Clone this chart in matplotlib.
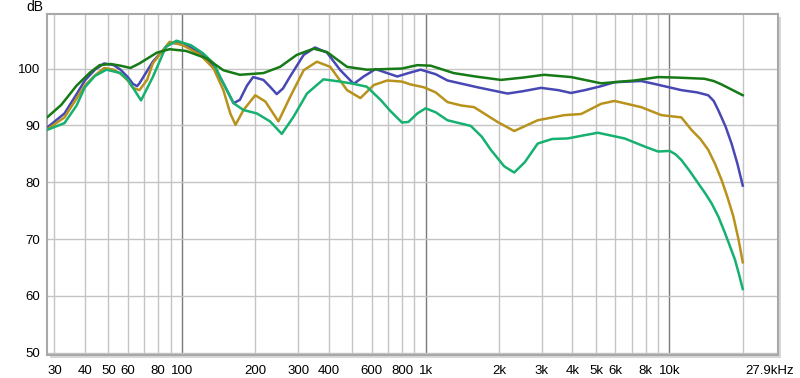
import numpy as np
import matplotlib.pyplot as plt
from matplotlib.ticker import FixedLocator, NullLocator
from matplotlib.patches import Rectangle
import matplotlib.transforms as mtransforms

plt.rcParams['font.family'] = ['Liberation Sans', 'DejaVu Sans']

# frequency response curves, Hz / dB
f_dgreen = [28, 32, 37, 42, 46, 51, 56, 61.5, 67, 79, 89, 104, 126, 148, 173, 216, 253, 296,
            347, 394, 476, 574, 800, 925, 1049, 1304, 1600, 2036, 2500, 3060, 3952, 5252,
            7198, 8985, 10860, 13930, 15200, 16370, 18000, 20000]
db_dgreen = [91.4, 93.6, 97.0, 99.3, 100.6, 100.8, 100.5, 100.1, 100.9, 102.8, 103.4, 103.1,
             101.8, 99.7, 98.9, 99.2, 100.3, 102.4, 103.5, 102.9, 100.3, 99.8, 100.0, 100.6,
             100.5, 99.2, 98.6, 98.0, 98.4, 98.9, 98.5, 97.4, 97.9, 98.5, 98.4, 98.2, 97.8,
             97.2, 96.3, 95.3]

f_blue = [28, 33, 37, 40, 44, 48, 52.5, 56, 60, 63, 65.5, 67, 76, 89, 101, 119, 135, 148, 163,
          173, 185, 196, 216, 230, 245, 260, 278, 316, 352, 394, 447, 507, 557, 623, 696,
          765, 850, 954, 1100, 1229, 1633, 2169, 2500, 2974, 3500, 3952, 4500, 5252, 5955,
          7670, 8676, 11200, 13000, 14430, 15200, 15860, 17000, 17990, 19000, 20000]
db_blue = [89.6, 92.1, 95.5, 97.9, 99.8, 100.9, 100.6, 99.8, 98.5, 97.3, 96.9, 97.4, 101.2,
           104.5, 104.4, 102.8, 100.3, 97.4, 93.9, 94.5, 97.0, 98.5, 98.0, 96.8, 95.5, 96.5,
           98.6, 102.4, 103.7, 102.8, 99.7, 97.3, 98.6, 99.9, 99.2, 98.6, 99.2, 99.8, 99.0,
           97.9, 96.7, 95.6, 96.0, 96.6, 96.2, 95.7, 96.2, 96.9, 97.6, 97.8, 97.3, 96.2,
           95.8, 95.3, 94.3, 92.7, 89.8, 86.8, 83.3, 79.4]

f_gold = [28, 33, 40, 44, 48, 52.5, 56, 60, 63, 67, 72, 76, 89, 101, 119, 135, 148, 158, 166,
          179, 200, 220, 249, 278, 316, 358, 406, 476, 540, 613, 696, 800, 868, 984, 1100,
          1229, 1400, 1581, 1973, 2309, 2883, 3708, 4345, 5252, 5955, 7670, 9270, 11200,
          12320, 13400, 14430, 15400, 16370, 17300, 18290, 19200, 20000]
db_gold = [89.3, 91.4, 97.0, 98.8, 100.1, 99.8, 99.1, 97.9, 96.6, 96.2, 98.0, 100.9, 104.7,
           104.1, 102.4, 100.0, 96.2, 92.1, 90.1, 92.7, 95.3, 94.2, 90.7, 95.0, 99.7, 101.2,
           100.3, 96.2, 94.8, 97.1, 97.9, 97.7, 97.2, 96.7, 95.8, 94.1, 93.5, 93.2, 90.6,
           89.0, 90.9, 91.8, 92.0, 93.8, 94.3, 93.2, 91.8, 91.4, 89.2, 87.6, 85.7, 83.2, 80.4,
           77.4, 74.0, 70.0, 65.9]

f_teal = [28, 33, 37, 40, 44, 49, 56, 60, 63.5, 68, 76, 86, 95, 109, 122, 135, 148, 163, 179,
          203, 230, 257, 287, 326, 381, 447, 507, 574, 653, 718, 800, 850, 925, 1000, 1100,
          1229, 1532, 1700, 1851, 2100, 2309, 2550, 2883, 3300, 3830, 4400, 5090, 6546, 8000,
          8985, 10030, 10600, 11200, 12100, 13130, 14000, 14890, 15900, 16890, 17700, 18570,
          19300, 20000]
db_teal = [89.2, 90.4, 93.5, 96.7, 98.7, 99.8, 99.2, 98.0, 96.4, 94.4, 98.5, 103.8, 104.9,
           104.1, 102.7, 100.9, 97.4, 93.9, 92.7, 92.1, 90.7, 88.5, 91.5, 95.6, 98.1, 97.7,
           97.3, 96.8, 94.5, 92.5, 90.5, 90.6, 92.1, 93.0, 92.3, 90.9, 89.9, 88.0, 85.7, 82.8,
           81.7, 83.5, 86.8, 87.6, 87.7, 88.2, 88.7, 87.7, 86.2, 85.4, 85.5, 84.9, 83.9, 82.0,
           79.8, 78.1, 76.3, 73.9, 71.1, 68.8, 66.4, 63.8, 61.2]

x_ticks = [30, 40, 50, 60, 80, 100, 200, 300, 400, 600, 800, 1000, 2000, 3000, 4000,
           5000, 6000, 8000, 10000, 27900]
x_labels = ['30', '40', '50', '60', '80', '100', '200', '300', '400', '600', '800', '1k',
            '2k', '3k', '4k', '5k', '6k', '8k', '10k', '27.9kHz']
x_grid = [30, 40, 50, 60, 70, 80, 90, 200, 300, 400, 500, 600, 700, 800, 900,
          2000, 3000, 4000, 5000, 6000, 7000, 8000, 9000, 20000]
x_grid_major = [100, 1000, 10000]
y_ticks = [50, 60, 70, 80, 90, 100]

fig = plt.figure(figsize=(8, 3.78), dpi=100)
ax = fig.add_axes([0.0584, 0.061, 0.9141, 0.902])

# frame shadow
fig.patches.append(Rectangle((0.0584 + 0.004, 0.061 - 0.008), 0.9141, 0.902,
                             transform=fig.transFigure, facecolor='#d8d8d8',
                             edgecolor='none', zorder=-1))
ax.set_facecolor('white')

for g in x_grid:
    ax.axvline(g, color='#c4c4c4', lw=1, zorder=1)
for g in x_grid_major:
    ax.axvline(g, color='#7a7a7a', lw=1, zorder=1)
for g in y_ticks:
    ax.axhline(g, color='#c4c4c4', lw=1, zorder=1)

ax.plot(f_blue, db_blue, color='#4848b4', lw=1.8, zorder=3, solid_joinstyle='round')
ax.plot(f_gold, db_gold, color='#b8921c', lw=1.8, zorder=3, solid_joinstyle='round')
ax.plot(f_teal, db_teal, color='#16b070', lw=1.8, zorder=3, solid_joinstyle='round')
ax.plot(f_dgreen, db_dgreen, color='#167a16', lw=1.8, zorder=3, solid_joinstyle='round')

ax.set_xscale('log')
ax.set_xlim(27.9, 27900)
ax.set_ylim(49.6, 109.6)
ax.xaxis.set_major_locator(FixedLocator(x_ticks))
ax.xaxis.set_minor_locator(NullLocator())
ax.set_xticklabels(x_labels)
ax.set_yticks(y_ticks)
ax.set_yticklabels([str(v) for v in y_ticks])
ax.tick_params(axis='both', length=0, labelsize=9.5, colors='black')
ax.tick_params(axis='x', pad=7)
ax.tick_params(axis='y', pad=5)

# shift the last label a bit left
lab = ax.get_xticklabels()[-1]
lab.set_transform(lab.get_transform() + mtransforms.ScaledTranslation(-8 / 100, 0, fig.dpi_scale_trans))

for s in ax.spines.values():
    s.set_color('#a8a8a8')
    s.set_linewidth(1.5)

fig.text(35 / 800, 1 - 7 / 378, 'dB', ha='center', va='center', fontsize=10)

plt.savefig('out.png', dpi=100)
